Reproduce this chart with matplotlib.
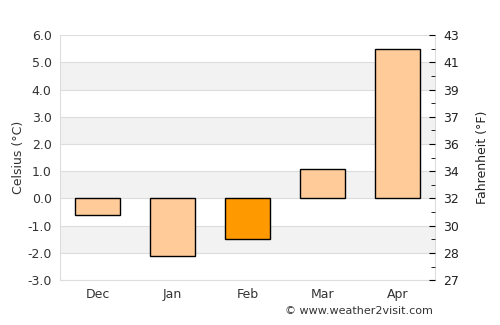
import matplotlib
matplotlib.use("Agg")
import matplotlib.pyplot as plt
import numpy as np

months = ["Dec", "Jan", "Feb", "Mar", "Apr"]
celsius = [-0.6, -2.1, -1.5, 1.1, 5.5]
highlight = "Feb"
c_ticks = [-3, -2, -1, 0, 1, 2, 3, 4, 5, 6]
f_labels = ["27", "28", "30", "32", "34", "36", "37", "39", "41", "43"]

fig = plt.figure(figsize=(5, 3.25), dpi=100)
ax = fig.add_axes([0.12, 0.138, 0.75, 0.754])
ax.set_xlim(-0.5, 4.5)
ax.set_ylim(-3, 6)

# alternating bands
for lo in range(-3, 6):
    if (lo - 4) % 2 == 0:
        ax.axhspan(lo, lo + 1, color="#f2f2f2", zorder=0, lw=0)
for t in c_ticks:
    ax.axhline(t, color="#dddddd", lw=0.8, zorder=1)

x = np.arange(len(months))
colors = ["#ff9900" if m == highlight else "#ffcc99" for m in months]
ax.bar(x, celsius, width=0.6, color=colors, edgecolor="black", linewidth=1, zorder=3)

ax.set_xticks(x)
ax.set_xticklabels(months)
ax.set_yticks(c_ticks)
ax.set_yticklabels([f"{t:.1f}" for t in c_ticks])
ax.tick_params(axis="x", length=0, colors="#333333", labelsize=9, pad=6)
ax.tick_params(axis="y", length=0, colors="#333333", labelsize=9, pad=6)
for s in ax.spines.values():
    s.set_color("#dddddd")
ax.spines["top"].set_visible(False)
ax.set_ylabel("Celsius (°C)", fontsize=9, color="#333333", labelpad=2)

ax2 = ax.twinx()
ax2.set_ylim(-3, 6)
ax2.set_yticks(c_ticks)
ax2.set_yticklabels(f_labels)
ax2.set_yticks(np.arange(-2.5, 6, 1.0), minor=True)
ax2.tick_params(axis="y", which="major", direction="in", length=4, color="black",
                labelsize=9, labelcolor="#222222", pad=6)
ax2.tick_params(axis="y", which="minor", direction="in", length=3, color="black")
for s in ax2.spines.values():
    s.set_visible(False)
ax2.set_ylabel("Fahrenheit (°F)", fontsize=9, color="#222222", labelpad=12)

fig.text(0.57, 0.035, "© www.weather2visit.com", fontsize=8, color="#333333")

fig.savefig("out.png", dpi=100)
